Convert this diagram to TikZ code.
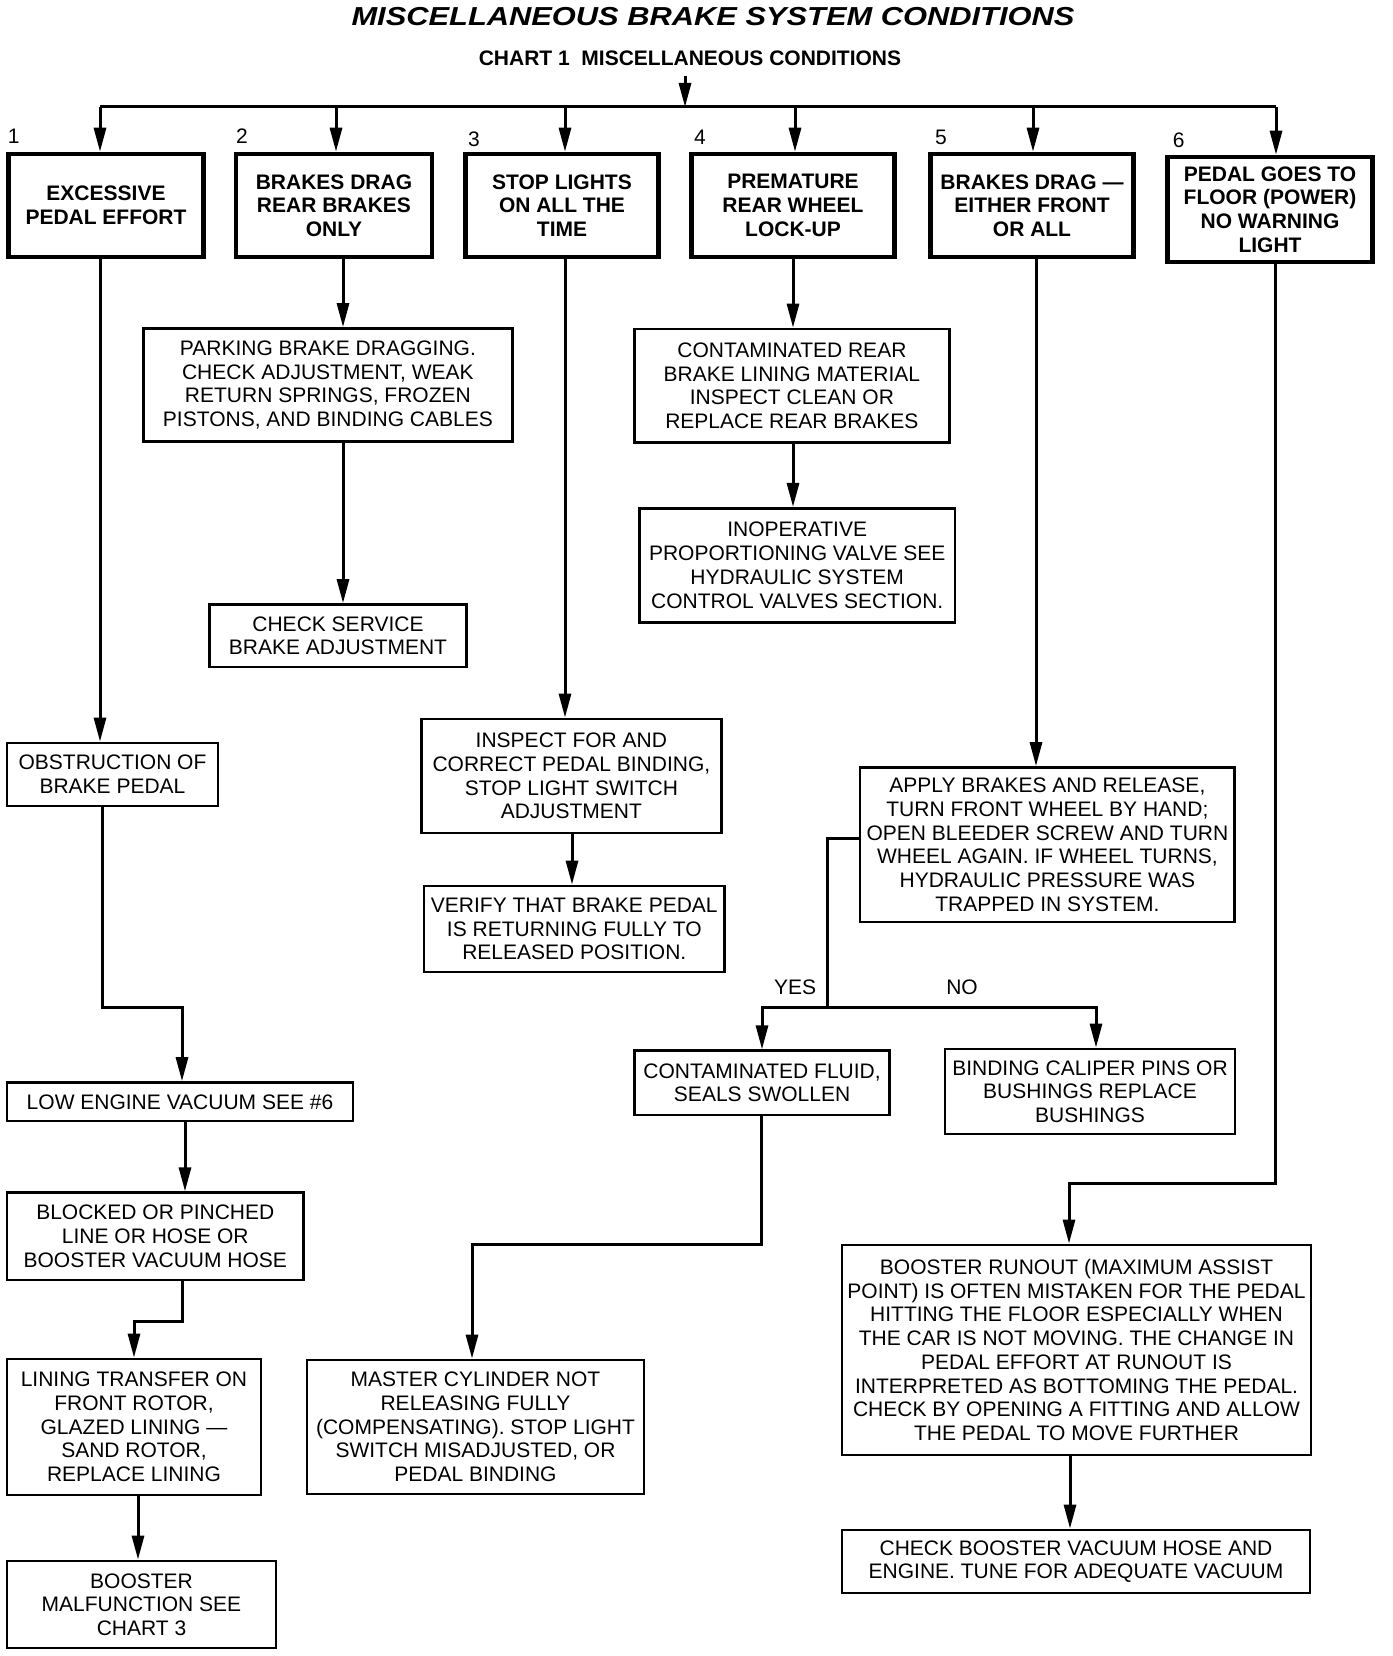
\documentclass[tikz,border=0pt]{standalone}
\usepackage{fontspec}
\setmainfont{Liberation Sans}
\usepackage{graphicx}
\usetikzlibrary{arrows.meta}
\begin{document}
\begin{tikzpicture}[x=1pt,y=-1pt,
  lbox/.style={draw, line width=2.8pt, inner sep=0pt, align=center, font={\fontsize{21}{23.7}\selectfont}},
  tbox/.style={draw, line width=4.5pt, inner sep=0pt, align=center, font={\fontsize{21}{23.7}\selectfont\bfseries}},
  conn/.style={line width=3pt},
  arr/.style={line width=3pt, -{Triangle[length=24pt,width=12pt]}},
  lbl/.style={inner sep=0pt, font={\fontsize{21}{24}\selectfont}}
]
\useasboundingbox[fill=white] (0,0) rectangle (1392,1656);

% titles
\node[inner sep=0pt] (title) at (713,17) {\fontsize{26}{30}\selectfont\bfseries\itshape\scalebox{1.186}[1]{MISCELLANEOUS BRAKE SYSTEM CONDITIONS}};
\node[inner sep=0pt] (sub) at (690,58) {\fontsize{21}{24}\selectfont\bfseries CHART 1\ \ MISCELLANEOUS CONDITIONS};

% top boxes
\node[tbox, minimum width=195pt, minimum height=103pt] (b1) at (106,205.5) {EXCESSIVE\\PEDAL EFFORT};
\node[tbox, minimum width=196pt, minimum height=103pt] (b2) at (334,205.5) {BRAKES DRAG\\REAR BRAKES\\ONLY};
\node[tbox, minimum width=193pt, minimum height=103pt] (b3) at (562,205.5) {STOP LIGHTS\\ON ALL THE\\TIME};
\node[tbox, minimum width=203pt, minimum height=103pt] (b4) at (793,205.5) {PREMATURE\\REAR WHEEL\\LOCK-UP};
\node[tbox, minimum width=203pt, minimum height=103pt] (b5) at (1032,205.5) {BRAKES DRAG ---\\EITHER FRONT\\OR ALL};
\node[tbox, minimum width=205pt, minimum height=105pt] (b6) at (1270,209.5) {PEDAL GOES TO\\FLOOR (POWER)\\NO WARNING\\LIGHT};

% numbers
\node[lbl] (n1) at (13.7,136) {1};
\node[lbl] (n2) at (242,136) {2};
\node[lbl] (n3) at (474,139) {3};
\node[lbl] (n4) at (700,137) {4};
\node[lbl] (n5) at (941,137) {5};
\node[lbl] (n6) at (1178.6,140) {6};

% lower boxes
\node[lbox, minimum width=368.6pt, minimum height=113pt] (park) at (327.9,385) {PARKING BRAKE DRAGGING.\\CHECK ADJUSTMENT, WEAK\\RETURN SPRINGS, FROZEN\\PISTONS, AND BINDING CABLES};
\node[lbox, minimum width=257pt, minimum height=62.5pt] (chk) at (338,635.8) {CHECK SERVICE\\BRAKE ADJUSTMENT};
\node[lbox, minimum width=315.2pt, minimum height=113.7pt] (crear) at (791.9,385.9) {CONTAMINATED REAR\\BRAKE LINING MATERIAL\\INSPECT CLEAN OR\\REPLACE REAR BRAKES};
\node[lbox, minimum width=315.6pt, minimum height=114pt] (inop) at (797.2,565.3) {INOPERATIVE\\PROPORTIONING VALVE SEE\\HYDRAULIC SYSTEM\\CONTROL VALVES SECTION.};
\node[lbox, minimum width=211pt, minimum height=63pt] (obs) at (112.5,774.5) {OBSTRUCTION OF\\BRAKE PEDAL};
\node[lbox, minimum width=300pt, minimum height=114pt] (insp) at (571.4,776) {INSPECT FOR AND\\CORRECT PEDAL BINDING,\\STOP LIGHT SWITCH\\ADJUSTMENT};
\node[lbox, minimum width=300.5pt, minimum height=86pt] (ver) at (574.3,929) {VERIFY THAT BRAKE PEDAL\\IS RETURNING FULLY TO\\RELEASED POSITION.};
\node[lbox, minimum width=374.7pt, minimum height=154.5pt] (apply) at (1047.4,844.8) {APPLY BRAKES AND RELEASE,\\TURN FRONT WHEEL BY HAND;\\OPEN BLEEDER SCREW AND TURN\\WHEEL AGAIN. IF WHEEL TURNS,\\HYDRAULIC PRESSURE WAS\\TRAPPED IN SYSTEM.};
\node[lbox, minimum width=346pt, minimum height=38.4pt] (low) at (180,1101.8) {LOW ENGINE VACUUM SEE \#6};
\node[lbox, minimum width=296.5pt, minimum height=87.3pt] (blk) at (155.3,1236.4) {BLOCKED OR PINCHED\\LINE OR HOSE OR\\BOOSTER VACUUM HOSE};
\node[lbox, minimum width=254pt, minimum height=136pt] (lin) at (134,1427) {LINING TRANSFER ON\\FRONT ROTOR,\\GLAZED LINING ---\\SAND ROTOR,\\REPLACE LINING};
\node[lbox, minimum width=269pt, minimum height=87pt] (boost) at (141.5,1604.5) {BOOSTER\\MALFUNCTION SEE\\CHART 3};
\node[lbox, minimum width=337pt, minimum height=134pt] (mast) at (475.5,1427) {MASTER CYLINDER NOT\\RELEASING FULLY\\(COMPENSATING). STOP LIGHT\\SWITCH MISADJUSTED, OR\\PEDAL BINDING};
\node[lbox, minimum width=254.8pt, minimum height=64.2pt] (cfl) at (762.1,1082.9) {CONTAMINATED FLUID,\\SEALS SWOLLEN};
\node[lbox, minimum width=290pt, minimum height=85pt] (bind) at (1090,1091.5) {BINDING CALIPER PINS OR\\BUSHINGS REPLACE\\BUSHINGS};
\node[lbox, minimum width=469pt, minimum height=210pt] (run) at (1076.5,1350) {BOOSTER RUNOUT (MAXIMUM ASSIST\\POINT) IS OFTEN MISTAKEN FOR THE PEDAL\\HITTING THE FLOOR ESPECIALLY WHEN\\THE CAR IS NOT MOVING. THE CHANGE IN\\PEDAL EFFORT AT RUNOUT IS\\INTERPRETED AS BOTTOMING THE PEDAL.\\CHECK BY OPENING A FITTING AND ALLOW\\THE PEDAL TO MOVE FURTHER};
\node[lbox, minimum width=468pt, minimum height=63pt] (cbv) at (1076,1561.5) {CHECK BOOSTER VACUUM HOSE AND\\ENGINE. TUNE FOR ADEQUATE VACUUM};

% yes / no
\node[lbl] (yesl) at (795,987) {YES};
\node[lbl] (nol) at (962,987) {NO};

% coordinates
\coordinate (sa) at (685,107);
\coordinate (c1) at (100,107);
\coordinate (c2) at (336,107);
\coordinate (c3) at (565,107);
\coordinate (c4) at (795,107);
\coordinate (c5) at (1033,107);
\coordinate (c6) at (1276,107);
\coordinate (j1) at (102,1007);
\coordinate (j2) at (182,1007);
\coordinate (k) at (185,1150);
\coordinate (m1) at (182,1321);
\coordinate (m2) at (134,1321);
\coordinate (nn1) at (138,1530);
\coordinate (p) at (343,300);
\coordinate (q) at (572,860);
\coordinate (r) at (793,300);
\coordinate (s) at (1036,500);
\coordinate (t1) at (827,838);
\coordinate (t2) at (827,1007);
\coordinate (yy) at (762,1007);
\coordinate (no) at (1096,1007);
\coordinate (u1) at (761,1244);
\coordinate (u2) at (472,1244);
\coordinate (v1) at (1275,1183);
\coordinate (v2) at (1069,1183);
\coordinate (w) at (1070,1500);

% connectors
\draw[arr] (sa |- sub.south) ++(0,10) -- (sa);
\draw[conn] (c1) -- (c6);
\foreach \c/\b in {c1/b1,c2/b2,c3/b3,c4/b4,c5/b5,c6/b6}
  \draw[arr] (\c) -- (\c |- \b.north);

\draw[arr] (c1 |- b1.south) -- (c1 |- obs.north);
\draw[arr] (j1 |- obs.south) -- (j1) -- (j2) -- (j2 |- low.north);
\draw[arr] (k |- low.south) -- (k |- blk.north);
\draw[arr] (m1 |- blk.south) -- (m1) -- (m2) -- (m2 |- lin.north);
\draw[arr] (nn1 |- lin.south) -- (nn1 |- boost.north);

\draw[arr] (p |- b2.south) -- (p |- park.north);
\draw[arr] (p |- park.south) -- (p |- chk.north);

\draw[arr] (c3 |- b3.south) -- (c3 |- insp.north);
\draw[arr] (q |- insp.south) -- (q |- ver.north);

\draw[arr] (r |- b4.south) -- (r |- crear.north);
\draw[arr] (r |- crear.south) -- (r |- inop.north);

\draw[arr] (s |- b5.south) -- (s |- apply.north);
\draw[conn] (apply.west |- t1) -- (t1) -- (t2);
\draw[arr] (t2) -- (yy) -- (yy |- cfl.north);
\draw[arr] (t2) -- (no) -- (no |- bind.north);
\draw[arr] (u1 |- cfl.south) -- (u1) -- (u2) -- (u2 |- mast.north);

\draw[arr] (v1 |- b6.south) -- (v1) -- (v2) -- (v2 |- run.north);
\draw[arr] (w |- run.south) -- (w |- cbv.north);
\end{tikzpicture}
\end{document}
